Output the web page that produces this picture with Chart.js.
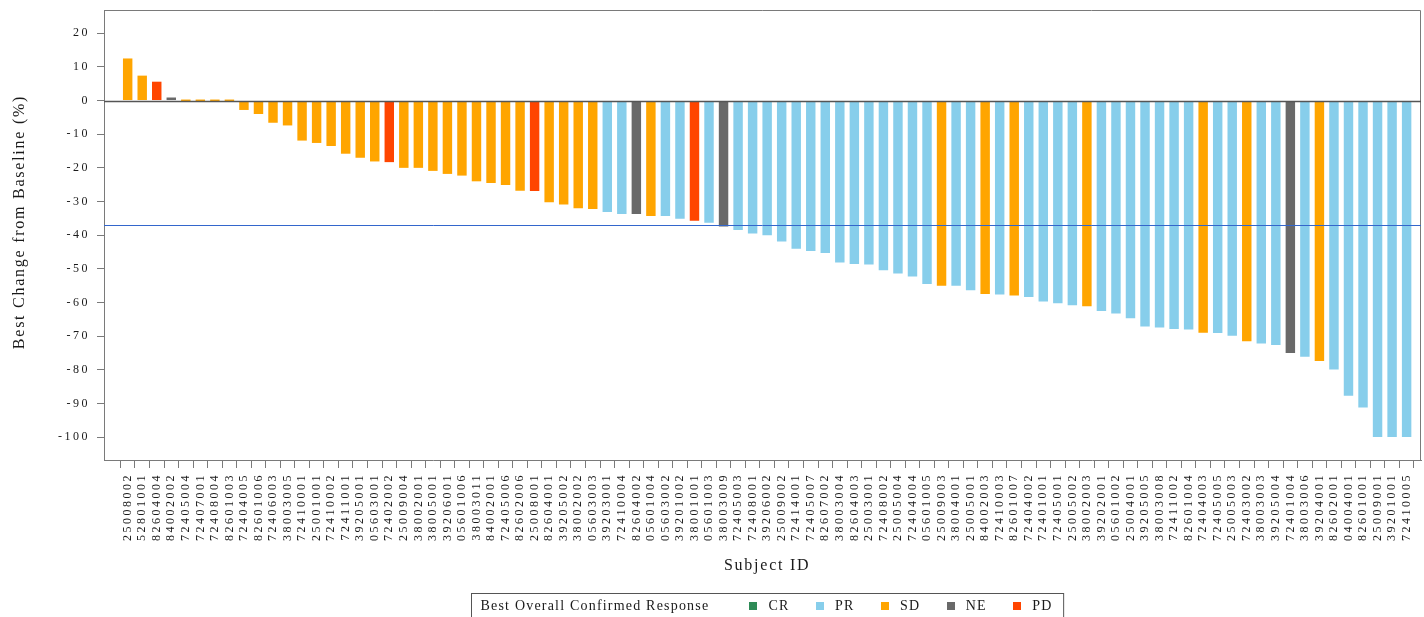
<!DOCTYPE html>
<html>
<head>
<meta charset="utf-8">
<title>Best Change from Baseline by Subject</title>
<script src="https://cdn.jsdelivr.net/npm/chart.js@4.4.1/dist/chart.umd.min.js"></script>
<style>
  html, body { margin: 0; padding: 0; background: #ffffff; }
  canvas { display: block; }
</style>
</head>
<body>
<canvas id="waterfall" width="1424" height="617"></canvas>
<script>
// Subjects in plotted order (sorted by best percent change)
const subjectIds = [
  '25008002','52801001','82604004','84002002','72405004','72407001','72408004','82601003',
  '72404005','82601006','72406003','38003005','72410001','25001001','72410002','72411001',
  '39205001','05603001','72402002','25009004','38002001','38005001','39206001','05601006',
  '38003011','84002001','72405006','82602006','25008001','82604001','39205002','38002002',
  '05603003','39203001','72410004','82604002','05601004','05603002','39201002','38001001',
  '05601003','38003009','72405003','72408001','39206002','25009002','72414001','72405007',
  '82607002','38003004','82604003','25003001','72408002','25005004','72404004','05601005',
  '25009003','38004001','25005001','84002003','72410003','82601007','72404002','72401001',
  '72405001','25005002','38002003','39202001','05601002','25004001','39205005','38003008',
  '72411002','82601004','72404003','72405005','25005003','72403002','38003003','39205004',
  '72401004','38003006','39204001','82602001','04004001','82601001','25009001','39201001',
  '72410005'
];

// Best change from baseline (%)
const bestChange = [
  12.5, 7.4, 5.6, 0.9, 0, 0, 0, 0,
  -2.8, -4.0, -6.6, -7.4, -11.9, -12.6, -13.5, -15.8,
  -17.0, -18.1, -18.3, -20.0, -20.0, -20.9, -21.8, -22.3,
  -24.0, -24.5, -25.1, -26.8, -26.9, -30.2, -30.9, -32.0,
  -32.2, -33.1, -33.7, -33.7, -34.3, -34.3, -35.1, -35.7,
  -36.3, -37.4, -38.5, -39.5, -40.0, -41.9, -44.0, -44.7,
  -45.3, -48.1, -48.6, -48.7, -50.4, -51.4, -52.3, -54.5,
  -55.0, -55.0, -56.4, -57.5, -57.6, -57.9, -58.4, -59.7,
  -60.2, -60.8, -61.1, -62.5, -63.3, -64.7, -67.1, -67.4,
  -67.9, -68.0, -69.0, -69.1, -69.9, -71.5, -72.2, -72.6,
  -75.0, -76.1, -77.4, -79.9, -87.7, -91.2, -100, -100,
  -100
];

// Best overall confirmed response per subject
const bestResponse = [
  'SD','SD','PD','NE','SD','SD','SD','SD',
  'SD','SD','SD','SD','SD','SD','SD','SD',
  'SD','SD','PD','SD','SD','SD','SD','SD',
  'SD','SD','SD','SD','PD','SD','SD','SD',
  'SD','PR','PR','NE','SD','PR','PR','PD',
  'PR','NE','PR','PR','PR','PR','PR','PR',
  'PR','PR','PR','PR','PR','PR','PR','PR',
  'SD','PR','PR','SD','PR','SD','PR','PR',
  'PR','PR','SD','PR','PR','PR','PR','PR',
  'PR','PR','SD','PR','PR','SD','PR','PR',
  'NE','PR','SD','PR','PR','PR','PR','PR',
  'PR'
];

const responseCategories = ['CR', 'PR', 'SD', 'NE', 'PD'];
const responseColors = { CR: '#2E8B57', PR: '#87CEEB', SD: '#FFA500', NE: '#696969', PD: '#FF4500' };

const yTickValues = [20, 10, 0, -10, -20, -30, -40, -50, -60, -70, -80, -90, -100];
const referenceLevel = -37;

const xAxisTitle = 'Subject ID';
const yAxisTitle = 'Best Change from Baseline (%)';
const legendTitle = 'Best Overall Confirmed Response';

const SERIF = "'Liberation Serif', 'Times New Roman', serif";
const TEXT_COLOR = '#1a1a1a';
const AXIS_COLOR = '#7a7a7a';

// Wider tracking on tick labels; cleared before the bars are drawn
const tickSpacing = {
  id: 'tickSpacing',
  beforeDraw(chart) { chart.ctx.letterSpacing = '2.5px'; },
  beforeDatasetsDraw(chart) { chart.ctx.letterSpacing = '0px'; }
};

// Zero line, reference line and top/right frame
const guideLines = {
  id: 'guideLines',
  afterDatasetsDraw(chart) {
    const { ctx, chartArea: a, scales: { y } } = chart;
    ctx.save();
    ctx.lineWidth = 1;
    ctx.strokeStyle = AXIS_COLOR;
    ctx.beginPath();
    ctx.moveTo(a.left, a.top + 0.5);
    ctx.lineTo(a.right - 0.5, a.top + 0.5);
    ctx.lineTo(a.right - 0.5, a.bottom);
    ctx.stroke();

    const y0 = Math.round(y.getPixelForValue(0)) + 0.5;
    ctx.strokeStyle = '#555555';
    ctx.lineWidth = 1.4;
    ctx.beginPath();
    ctx.moveTo(a.left, y0);
    ctx.lineTo(a.right, y0);
    ctx.stroke();

    const yr = Math.round(y.getPixelForValue(referenceLevel)) + 0.5;
    ctx.strokeStyle = '#3366CC';
    ctx.lineWidth = 1;
    ctx.beginPath();
    ctx.moveTo(a.left, yr);
    ctx.lineTo(a.right, yr);
    ctx.stroke();
    ctx.restore();
  }
};

// Axis titles and the response legend box
const titlesAndLegend = {
  id: 'titlesAndLegend',
  afterDraw(chart) {
    const { ctx, chartArea: a, scales: { x } } = chart;
    const midX = (x.getPixelForValue(0) + x.getPixelForValue(subjectIds.length - 1)) / 2;
    ctx.save();
    ctx.fillStyle = TEXT_COLOR;

    ctx.font = `16px ${SERIF}`;
    ctx.letterSpacing = '1.75px';
    ctx.textAlign = 'center';
    ctx.textBaseline = 'middle';
    ctx.fillText(xAxisTitle, midX, 566);

    ctx.save();
    ctx.translate(20, a.top + 212);
    ctx.rotate(-Math.PI / 2);
    ctx.fillText(yAxisTitle, 0, 0);
    ctx.restore();

    // Legend
    ctx.font = `14px ${SERIF}`;
    ctx.letterSpacing = '1.2px';
    ctx.textAlign = 'left';
    const sq = 8, gapSq = 11, gapItem = 26.5, gapTitle = 40, padL = 9, padR = 11;
    let width = ctx.measureText(legendTitle).width + gapTitle;
    responseCategories.forEach((c, i) => {
      width += sq + gapSq + ctx.measureText(c).width + (i < responseCategories.length - 1 ? gapItem : 0);
    });
    const boxW = width + padL + padR;
    const boxL = Math.round(midX - boxW / 2) + 0.5;
    const boxT = 593.5;
    const cy = 606;
    ctx.strokeStyle = '#555555';
    ctx.lineWidth = 1;
    ctx.strokeRect(boxL, boxT, boxW, 40);

    let px = boxL + padL;
    ctx.fillText(legendTitle, px, cy);
    px += ctx.measureText(legendTitle).width + gapTitle;
    responseCategories.forEach((c) => {
      ctx.fillStyle = responseColors[c];
      ctx.fillRect(Math.round(px), cy - sq / 2, sq, sq);
      px += sq + gapSq;
      ctx.fillStyle = TEXT_COLOR;
      ctx.fillText(c, px, cy);
      px += ctx.measureText(c).width + gapItem;
    });
    ctx.restore();
    ctx.letterSpacing = '0px';
  }
};

Chart.defaults.font.family = SERIF;
Chart.defaults.color = TEXT_COLOR;

new Chart(document.getElementById('waterfall'), {
  type: 'bar',
  data: {
    datasets: [{
      label: 'Best Change from Baseline (%)',
      data: bestChange.map((v, i) => ({ x: i, y: v })),
      backgroundColor: bestResponse.map(r => responseColors[r]),
      borderWidth: 0,
      barPercentage: 0.65,
      categoryPercentage: 1,
      minBarLength: 2
    }]
  },
  options: {
    responsive: false,
    animation: false,
    devicePixelRatio: 1,
    layout: { padding: { top: 10, right: 3, bottom: 0, left: 0 } },
    plugins: {
      legend: { display: false },
      tooltip: { enabled: false }
    },
    scales: {
      x: {
        type: 'linear',
        min: -1.12,
        max: 88.48,
        afterBuildTicks: (scale) => { scale.ticks = subjectIds.map((_, i) => ({ value: i })); },
        afterFit: (scale) => {
          scale.height = 157;
          scale.paddingLeft = 0;
          scale.paddingRight = 0;
        },
        ticks: {
          autoSkip: false,
          maxRotation: 90,
          minRotation: 90,
          padding: 5,
          color: TEXT_COLOR,
          font: { size: 12, family: SERIF },
          callback: (value, index) => subjectIds[index]
        },
        grid: { display: true, drawOnChartArea: false, drawTicks: true, tickLength: 8, color: AXIS_COLOR },
        border: { display: true, color: AXIS_COLOR, width: 1 }
      },
      y: {
        type: 'linear',
        min: -106.8,
        max: 26.9,
        afterBuildTicks: (scale) => { scale.ticks = yTickValues.map(v => ({ value: v })); },
        afterFit: (scale) => {
          scale.width = 104;
          scale.paddingTop = 0;
          scale.paddingBottom = 0;
        },
        ticks: {
          padding: 7,
          color: TEXT_COLOR,
          font: { size: 12, family: SERIF }
        },
        grid: { display: true, drawOnChartArea: false, drawTicks: true, tickLength: 7, color: AXIS_COLOR },
        border: { display: true, color: AXIS_COLOR, width: 1 }
      }
    }
  },
  plugins: [tickSpacing, guideLines, titlesAndLegend]
});
</script>
</body>
</html>
